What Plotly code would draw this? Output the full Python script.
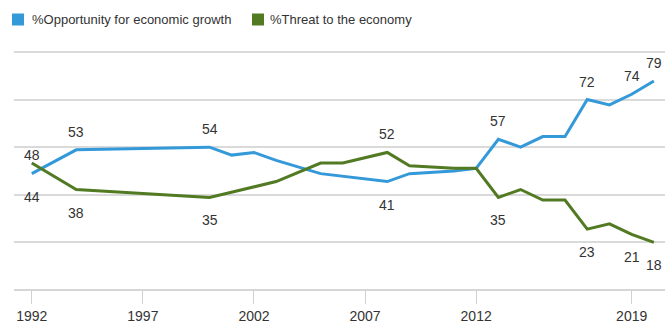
import plotly.graph_objects as go

years = [1992, 1994, 2000, 2001, 2002, 2003, 2005, 2006, 2008, 2009, 2011, 2012,
         2013, 2014, 2015, 2016, 2017, 2018, 2019, 2020]
opportunity = [44, 53, 54, 51, 52, 49, 44, 43, 41, 44, 45, 46,
               57, 54, 58, 58, 72, 70, 74, 79]
threat = [48, 38, 35, 37, 39, 41, 48, 48, 52, 47, 46, 46,
          35, 38, 34, 34, 23, 25, 21, 18]

# which points carry a value label, and on which side of the line
opp_label_years = [1992, 1994, 2000, 2008, 2013, 2017, 2019, 2020]
opp_label_side = ["below", "above", "above", "below", "above", "above", "above", "above"]
thr_label_years = [1992, 1994, 2000, 2008, 2013, 2017, 2019, 2020]
thr_label_side = ["above", "below", "below", "above", "below", "below", "below", "below"]

tick_years = [1992, 1997, 2002, 2007, 2012, 2019]
tick_text = ["1992", "1997", "2002", "2007", "2012", "2019"]

series_names = ["%Opportunity for economic growth", "%Threat to the economy"]

BLUE = "#3499d8"
GREEN = "#517a22"
FONT = "Liberation Sans"
TEXT = "#333333"

W, H = 665, 324
ML, MR, MT, MB = 14, 0, 48, 34
PW, PH = W - ML - MR, H - MT - MB


def px_x(px):
    return (px - ML) / PW


def px_y(py):
    return (H - MB - py) / PH


fig = go.Figure()
for name, vals, color in [(series_names[0], opportunity, BLUE), (series_names[1], threat, GREEN)]:
    fig.add_trace(go.Scatter(x=years, y=vals, mode="lines", name=name,
                             line=dict(color=color, width=3),
                             showlegend=False, hoverinfo="skip"))


def add_labels(label_years, sides, vals):
    for yr, side in zip(label_years, sides):
        v = vals[years.index(yr)]
        shift = 18 if side == "above" else -23
        if yr == years[0] and side == "above":
            shift = 8
        fig.add_annotation(x=yr, y=v, text=str(v), showarrow=False,
                           yshift=shift,
                           font=dict(family=FONT, size=14, color=TEXT))


add_labels(opp_label_years, opp_label_side, opportunity)
add_labels(thr_label_years, thr_label_side, threat)

# legend (squares + text) at the top left
legend_items = [(series_names[0], BLUE, 12, 30), (series_names[1], GREEN, 252, 268)]
for name, color, sq_x, tx_x in legend_items:
    fig.add_shape(type="rect", xref="paper", yref="paper",
                  x0=px_x(sq_x), x1=px_x(sq_x + 12), y0=px_y(25.5), y1=px_y(13.5),
                  fillcolor=color, line=dict(width=0))
    fig.add_annotation(xref="paper", yref="paper", x=px_x(tx_x), y=px_y(19.5),
                       xanchor="left", yanchor="middle", text=name, showarrow=False,
                       font=dict(family=FONT, size=13, color=TEXT))

fig.update_layout(
    width=W, height=H,
    margin=dict(l=ML, r=MR, t=MT, b=MB, autoexpand=False),
    paper_bgcolor="white", plot_bgcolor="white",
    font=dict(family=FONT, size=13, color=TEXT),
    showlegend=False,
    xaxis=dict(range=[1991.2, 2020.5], tickvals=tick_years, ticktext=tick_text,
               ticks="outside", ticklen=13, tickcolor="#d0d0d0", tickwidth=1,
               showgrid=False, zeroline=False, showline=False,
               tickfont=dict(family=FONT, size=14, color=TEXT)),
    yaxis=dict(range=[0, 91.5], dtick=18, tick0=0, showticklabels=False,
               showgrid=True, gridcolor="#dadada", gridwidth=1.5,
               zeroline=True, zerolinecolor="#d6d6d6", zerolinewidth=1.5,
               showline=False),
)

fig.write_html("out.html", config={"displayModeBar": False},
               post_script="document.body.style.margin='0';document.body.style.padding='0';")
